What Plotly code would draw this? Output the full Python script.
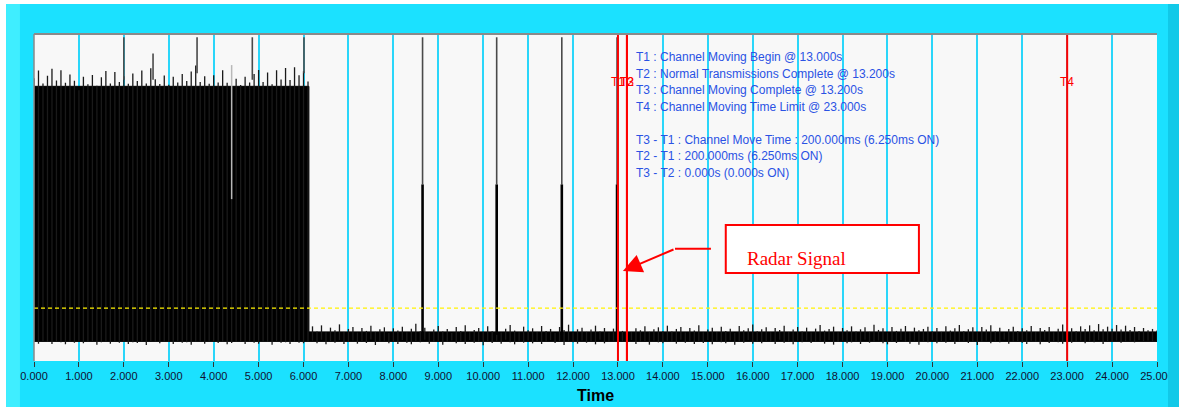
import plotly.graph_objects as go

# ---------------- data ----------------
tick_values = list(range(0, 26))
tick_labels = ["%d.000" % v for v in tick_values]

# solid cores of the trace: (start s, end s, low, high)
dense_core = (0.0, 6.12, 6.0, 84.0)
post_core = (6.12, 25.0, 6.0, 8.9)

# dense transmission block, min/max every 0.1 s from 0.0 to 6.1 s
dense_top = [86.5, 88.8, 84.9, 87.2, 89.4, 85.8, 88.9, 85.1, 87.6, 85.7,
             82.8, 86.9, 84.6, 87.5, 84.2, 86.8, 88.7, 84.9, 88.4, 85.3,
             87.1, 84.8, 87.9, 85.6, 88.8, 84.9, 89.5, 86.2, 84.7, 87.3,
             84.5, 86.9, 85.2, 87.8, 85.6, 88.5, 90.4, 85.3, 87.1, 84.8,
             87.4, 85.2, 88.9, 85.1, 84.0, 86.3, 84.4, 86.9, 85.2, 87.8,
             89.0, 85.3, 88.2, 84.6, 88.9, 86.1, 89.6, 85.9, 89.8, 87.4,
             88.6, 85.5]
dense_bot = [5.9, 5.3, 6.1, 5.8, 5.2, 6.0, 5.7, 5.1, 5.9, 5.6,
             6.0, 5.4, 5.8, 6.1, 5.0, 5.7, 6.0, 5.3, 6.0, 5.6,
             5.9, 5.2, 5.7, 5.5, 6.0, 4.9, 6.1, 5.9, 5.4, 6.0,
             5.8, 5.2, 6.1, 5.6, 5.7, 5.0, 5.8, 6.0, 5.3, 5.9,
             6.0, 5.5, 5.9, 5.1, 5.5, 5.8, 6.0, 5.2, 5.9, 5.6,
             5.3, 6.0, 5.8, 5.0, 6.1, 5.6, 5.7, 5.2, 5.8, 5.6,
             5.4, 5.9]

# noise floor after the block, min/max every 0.1 s from 6.2 to 25.0 s
post_top = [10.6, 9.0, 10.9, 8.8, 10.2, 9.4, 11.2, 8.9, 9.8, 10.4,
            8.7, 10.1, 9.2, 10.8, 8.9, 9.7, 10.3, 8.6, 10.0, 9.3,
            10.5, 8.8, 9.9, 11.4, 9.1, 10.2, 8.7, 9.6, 10.7, 9.0,
            9.8, 8.6, 10.4, 9.2, 10.9, 8.8, 9.5, 10.1, 8.9, 10.6,
            9.1, 10.3, 8.7, 9.9, 11.0, 9.3, 8.8, 10.5, 9.4, 10.0,
            8.9, 10.7, 9.2, 9.8, 8.6, 10.4, 9.5, 11.1, 8.8, 9.7,
            10.2, 8.9, 9.6, 10.8, 9.0, 10.1, 8.7, 9.9, 10.5, 9.2,
            11.3, 8.8, 10.0, 9.4, 10.6, 8.9, 9.7, 10.3, 9.1, 10.8,
            9.0, 9.8, 10.4, 8.7, 10.1, 9.3, 10.9, 8.8, 9.6, 10.2,
            8.9, 10.5, 9.2, 9.9, 8.6, 10.7, 9.4, 10.0, 11.2, 9.1,
            9.7, 10.3, 8.8, 10.1, 9.5, 10.8, 8.9, 9.6, 10.4, 9.0,
            10.2, 8.7, 9.9, 11.0, 9.3, 9.8, 10.5, 8.8, 10.1, 9.4,
            10.6, 9.0, 9.7, 10.3, 8.9, 11.1, 9.5, 10.0, 8.7, 10.4,
            9.2, 9.9, 10.7, 8.8, 10.2, 9.4, 9.8, 10.5, 9.0, 10.1,
            8.9, 10.6, 9.3, 10.0, 11.0, 9.1, 9.7, 10.3, 8.8, 10.4,
            9.6, 10.9, 9.0, 10.2, 8.7, 9.8, 10.5, 9.2, 10.0, 9.4,
            10.7, 8.9, 10.1, 9.5, 10.4, 8.8, 9.9, 11.2, 9.3, 10.0,
            9.1, 10.6, 9.8, 10.9, 9.4, 11.3, 9.7, 10.5, 9.9, 11.0,
            9.6, 10.8, 9.5, 10.4, 9.2, 10.1, 9.4, 9.8, 9.3]
post_bot = [6.2, 5.4, 6.5, 5.1, 6.0, 5.6, 6.4, 5.2, 5.8, 6.3,
            5.3, 6.1, 5.5, 6.6, 4.9, 5.9, 6.2, 5.4, 6.0, 5.2,
            6.4, 5.6, 5.1, 6.1, 5.7, 6.5, 5.3, 5.9, 6.2, 5.0,
            5.8, 6.3, 5.4, 6.0, 5.2, 6.4, 5.6, 5.9, 4.8, 6.1,
            5.5, 6.2, 5.3, 6.5, 5.7, 5.1, 6.0, 5.6, 6.3, 5.4,
            6.1, 5.2, 5.9, 6.4, 5.5, 6.0, 4.9, 6.2, 5.7, 5.3,
            6.3, 5.6, 6.0, 5.1, 6.5, 5.4, 5.8, 6.2, 5.3, 6.0,
            5.5, 6.4, 5.2, 5.9, 6.1, 5.0, 6.3, 5.7, 5.4, 6.2,
            5.8, 5.3, 6.5, 5.6, 6.0, 5.2, 6.1, 5.5, 6.4, 5.1,
            6.2, 5.7, 5.4, 6.3, 5.0, 6.0, 5.6, 6.4, 5.3, 5.9,
            5.4, 6.1, 5.8, 5.2, 6.5, 5.6, 6.0, 5.1, 6.2, 5.7,
            6.3, 5.5, 5.9, 6.1, 5.3, 6.4, 5.0, 5.8, 6.2, 5.4,
            5.7, 6.0, 5.2, 6.5, 5.6, 5.9, 6.3, 5.4, 5.1, 6.1,
            5.5, 6.4, 5.8, 5.3, 6.2, 5.0, 6.0, 5.7, 6.3, 5.4,
            6.1, 5.6, 6.4, 5.2, 5.9, 6.2, 5.5, 6.0, 4.9, 5.8,
            6.3, 5.4, 6.0, 5.7, 6.5, 5.3, 5.9, 6.1, 5.6, 5.2,
            6.2, 5.8, 5.1, 6.4, 5.5, 6.0, 5.7, 5.3, 6.3, 5.6,
            5.9, 6.2, 5.4, 6.0, 5.7, 6.4, 5.2, 6.1, 5.8, 6.3,
            5.6, 6.0, 6.2, 5.7, 6.4, 6.1, 6.3, 6.0, 6.2]

# narrow spikes reaching the top of the screen
spike_times = [2.0, 2.65, 3.63, 4.86, 6.01, 8.65, 10.3, 11.75, 12.98]
spike_base = [86.0, 86.0, 88.0, 86.0, 88.0, 54.0, 54.0, 54.0, 54.0]
spike_peaks = [99.0, 94.0, 99.0, 99.0, 99.0, 99.0, 99.0, 99.0, 99.0]
# wider radar pulses after the block
pulse_times = [8.65, 10.3, 11.75, 12.98]
pulse_peaks = [54.0, 54.0, 54.0, 54.0]
# momentary drop inside the dense block
gap_times = [4.4]
gap_low = [49.5]
gap_high = [90.5]

threshold = 16.2

marker_times = [13.0, 13.2, 13.2, 23.0]
marker_labels = ["T1", "T2", "T3", "T4"]

info_lines = [
    "T1 : Channel Moving Begin @ 13.000s",
    "T2 : Normal Transmissions Complete @ 13.200s",
    "T3 : Channel Moving Complete @ 13.200s",
    "T4 : Channel Moving Time Limit @ 23.000s",
    "",
    "T3 - T1 : Channel Move Time : 200.000ms (6.250ms ON)",
    "T2 - T1 : 200.000ms (6.250ms ON)",
    "T3 - T2 : 0.000s (0.000s ON)",
]

# ---------------- build figure ----------------
CYAN = "#1BE1FF"
GRID = "#2AD6FA"
FONT = "Arial, Liberation Sans, sans-serif"

t_dense = [round(0.1 * i, 1) for i in range(len(dense_top))]
n_post = min(len(post_top), len(post_bot))
t_post = [round(6.2 + 0.1 * i, 1) for i in range(n_post)]

fig = go.Figure()

# solid cores
cx, cy = [], []
for (a, b, lo, hi) in (dense_core, post_core):
    cx += [a, b, b, a, a, None]
    cy += [lo, lo, hi, hi, lo, None]
fig.add_trace(go.Scatter(x=cx, y=cy, mode="lines", fill="toself",
                         fillcolor="black", line=dict(color="black", width=1),
                         hoverinfo="skip", showlegend=False))

# min/max strokes
vx, vy = [], []
for t, lo, hi in zip(t_dense, dense_bot, dense_top):
    vx += [t, t, None]
    vy += [lo, hi, None]
for t, lo, hi in zip(t_post, post_bot[:n_post], post_top[:n_post]):
    vx += [t, t, None]
    vy += [lo, hi, None]
fig.add_trace(go.Scatter(x=vx, y=vy, mode="lines",
                         line=dict(color="#1A1A1A", width=1.3),
                         hoverinfo="skip", showlegend=False))

gx, gy = [], []
for t, lo, hi in zip(gap_times, gap_low, gap_high):
    gx += [t, t, None]
    gy += [lo, hi, None]
fig.add_trace(go.Scatter(x=gx, y=gy, mode="lines",
                         line=dict(color="#B8B8B8", width=1.5),
                         hoverinfo="skip", showlegend=False))

sx, sy = [], []
for t, b, p in zip(spike_times, spike_base, spike_peaks):
    sx += [t, t, None]
    sy += [b, p, None]
fig.add_trace(go.Scatter(x=sx, y=sy, mode="lines",
                         line=dict(color="#4A4A4A", width=1.6),
                         hoverinfo="skip", showlegend=False))

px_, py_ = [], []
for t, p in zip(pulse_times, pulse_peaks):
    px_ += [t, t, None]
    py_ += [8.0, p, None]
fig.add_trace(go.Scatter(x=px_, y=py_, mode="lines",
                         line=dict(color="black", width=2.6),
                         hoverinfo="skip", showlegend=False))

fig.add_trace(go.Scatter(x=[0, 25], y=[threshold, threshold], mode="lines",
                         line=dict(color="#FFF200", width=1.2, dash="4px,3px"),
                         hoverinfo="skip", showlegend=False))

mx, my = [], []
for t in marker_times:
    mx += [t, t, None]
    my += [0, 100, None]
fig.add_trace(go.Scatter(x=mx, y=my, mode="lines",
                         line=dict(color="#FF0000", width=2),
                         hoverinfo="skip", showlegend=False))

annotations = []
for t, lab in zip(marker_times, marker_labels):
    annotations.append(dict(x=t, y=85.3, xref="x", yref="y", text=lab,
                            showarrow=False, xanchor="center", yanchor="middle",
                            font=dict(family=FONT, size=12, color="#FF0000")))

info_y = [93.0, 87.9, 82.9, 77.8, 72.7, 67.7, 62.7, 57.6]
for line, yy in zip(info_lines, info_y):
    if line:
        annotations.append(dict(x=13.36, y=yy, xref="x", yref="y", text=line,
                                showarrow=False, xanchor="left", yanchor="middle",
                                font=dict(family=FONT, size=12, color="#2A52E4")))

annotations.append(dict(x=15.83, y=31.3, xref="x", yref="y", text="Radar Signal",
                        showarrow=False, xanchor="left", yanchor="middle",
                        font=dict(family="Liberation Serif, Times New Roman, serif",
                                  size=19, color="#FF0000")))
annotations.append(dict(x=13.11, y=27.5, xref="x", yref="y", text="",
                        ax=14.27, ay=34.3, axref="x", ayref="y",
                        showarrow=True, arrowhead=2, arrowsize=1.9, arrowwidth=2,
                        arrowcolor="#FF0000", standoff=0))
annotations.append(dict(x=0.5, y=-0.104, xref="paper", yref="paper", text="<b>Time</b>",
                        showarrow=False, xanchor="center", yanchor="middle",
                        font=dict(family=FONT, size=16, color="#000000")))

shapes = [
    dict(type="line", xref="x", yref="y", x0=14.27, y0=34.3, x1=15.07, y1=34.3,
         line=dict(color="#FF0000", width=2)),
    dict(type="rect", xref="x", yref="y", x0=15.40, x1=19.70, y0=26.9, y1=41.6,
         fillcolor="white", line=dict(color="#FF0000", width=2)),
    dict(type="line", xref="paper", yref="paper", x0=0, x1=1, y0=1, y1=1,
         line=dict(color="#8A8A8A", width=2)),
    dict(type="line", xref="paper", yref="paper", x0=0, x1=0, y0=0, y1=1,
         line=dict(color="#8A8A8A", width=1.5)),
    dict(type="rect", xref="paper", yref="paper", x0=-0.0303, x1=1.0196, y0=1.0917, y1=1.104,
         fillcolor="white", line=dict(width=0)),
    dict(type="rect", xref="paper", yref="paper", x0=-0.0303, x1=-0.0249, y0=-0.141, y1=1.104,
         fillcolor="white", line=dict(width=0)),
    dict(type="rect", xref="paper", yref="paper", x0=-0.0249, x1=-0.0125, y0=-0.141, y1=1.0917,
         fillcolor="#3FEEFF", line=dict(width=0)),
    dict(type="rect", xref="paper", yref="paper", x0=1.0098, x1=1.0196, y0=-0.141, y1=1.0917,
         fillcolor="#12C9E8", line=dict(width=0)),
]

fig.update_layout(
    width=1179, height=407,
    margin=dict(l=34, r=22, t=34, b=46, autoexpand=False),
    paper_bgcolor=CYAN, plot_bgcolor="#F8F8F8",
    showlegend=False,
    xaxis=dict(range=[0, 25], tickvals=tick_values, ticktext=tick_labels,
               showgrid=True, gridcolor=GRID, gridwidth=1.5, zeroline=False,
               ticks="outside", ticklen=5, tickcolor="#333333", tickwidth=1,
               tickfont=dict(family=FONT, size=11, color="#101030"),
               showline=False, fixedrange=True, automargin=False),
    yaxis=dict(range=[0, 100], showticklabels=False, showgrid=False,
               zeroline=False, ticks="", showline=False, fixedrange=True,
               automargin=False),
    annotations=annotations,
    shapes=shapes,
)

fig.write_html("out.html", config={"displayModeBar": False},
               post_script="document.body.style.margin='0px';"
                           "document.body.style.overflow='hidden';")
